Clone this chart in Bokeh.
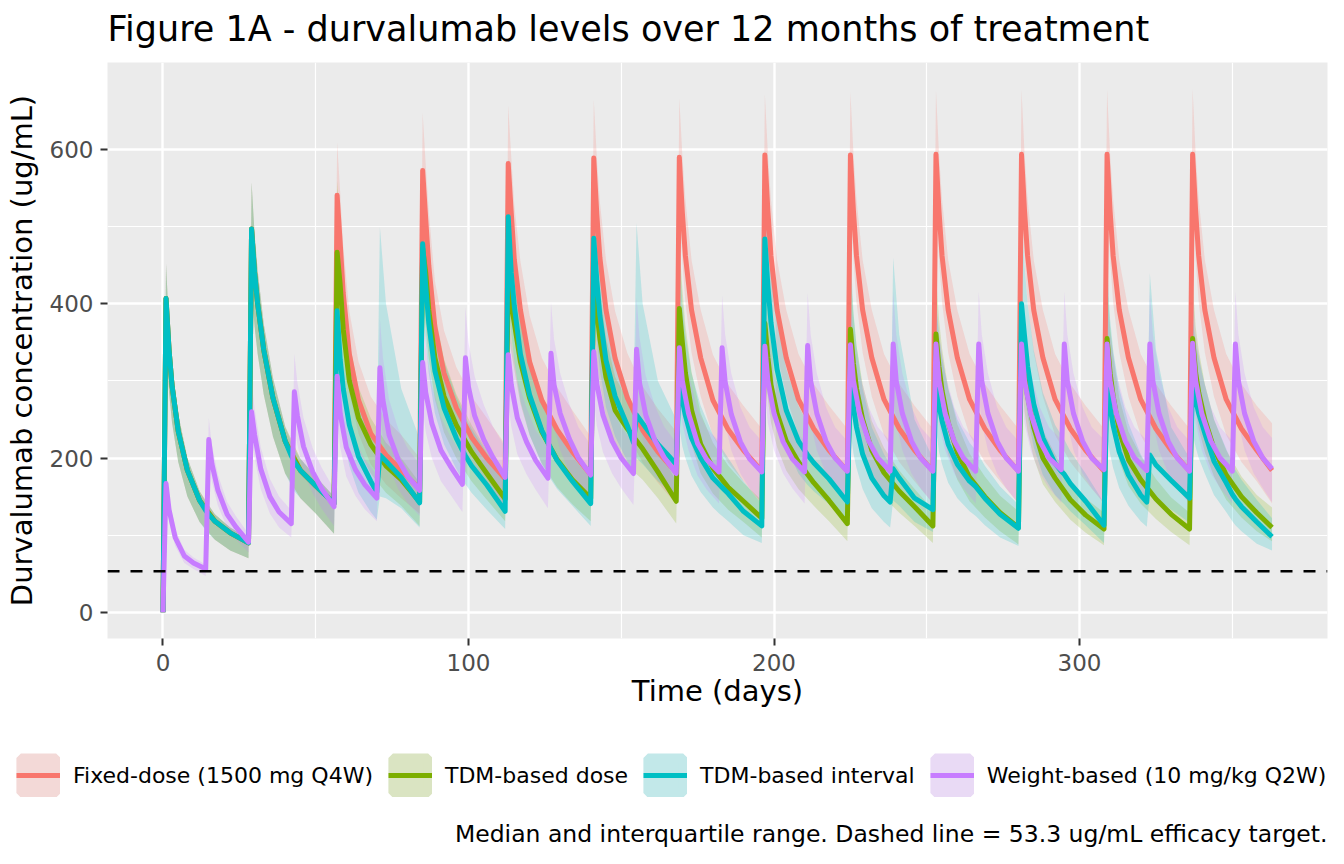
import numpy as np
from bokeh.plotting import figure
from bokeh.layouts import column
from bokeh.models import Range1d, FixedTicker, Span, Legend, LegendItem, Label, ColumnDataSource
from bokeh.embed import file_html
from bokeh.resources import INLINE

# ---------------- data ----------------
title_text = "Figure 1A - durvalumab levels over 12 months of treatment"
x_title = "Time (days)"
y_title = "Durvalumab concentration (ug/mL)"
caption_text = "Median and interquartile range. Dashed line = 53.3 ug/mL efficacy target."
series_labels = ["Fixed-dose (1500 mg Q4W)", "TDM-based dose", "TDM-based interval", "Weight-based (10 mg/kg Q2W)"]
series_colors = ["#F8766D", "#7CAE00", "#00BFC4", "#C77CFF"]
legend_key_fill = ["#F3D9D7", "#DAE4C2", "#C2E8E9", "#E9DAF5"]
efficacy_target = 53.3

x_ticks = [0, 100, 200, 300]
x_minor = [50, 150, 250, 350]
y_ticks = [0, 200, 400, 600]
y_minor = [100, 300, 500]

dose_days_q4w = [0, 28, 56, 84, 112, 140, 168, 196, 224, 252, 280, 308, 336]
dose_days_q2w = [0, 14, 28, 42, 56, 70, 84, 98, 112, 126, 140, 154, 168, 182, 196,
                 210, 224, 238, 252, 266, 280, 294, 308, 322, 336, 350]
end_day = 363
# sampling days after each dose (0 = pre-dose trough)
offsets_q4w = [0, 1, 2, 3, 5, 8, 12, 17, 22]
offsets_interval = [0, 1, 2, 3, 5, 8, 12, 14, 15, 17, 22]
offsets_q2w = [0, 1, 2, 4, 7, 10]

# Fixed-dose (1500 mg Q4W)
fixed_med = [
    [0, 407, 340, 293, 235, 184, 145, 118, 103],
    [90, 497, 440, 400, 340, 278, 222, 184, 164],
    [141, 541, 480, 414, 335, 275, 232, 204, 184],
    [160, 573, 510, 450, 370, 310, 265, 227, 200],
    [173, 582, 518, 457, 392, 325, 275, 237, 208],
    [178, 589, 516, 460, 392, 329, 278, 236, 208],
    [181, 590, 518, 462, 392, 330, 275, 237, 210],
    [183, 593, 520, 462, 392, 330, 276, 238, 210],
    [183, 593, 520, 462, 392, 330, 276, 238, 210],
    [183, 594, 520, 462, 392, 330, 276, 238, 210],
    [183, 594, 520, 462, 392, 330, 276, 238, 210],
    [183, 594, 520, 462, 392, 330, 276, 238, 210],
    [183, 594, 520, 462, 392, 330, 276, 238, 210],
]
fixed_med_end = 184
fixed_q75 = [
    [0, 452, 372, 320, 257, 200, 157, 127, 110],
    [96, 558, 490, 443, 374, 304, 241, 199, 176],
    [150, 610, 545, 475, 390, 325, 280, 250, 230],
    [200, 648, 580, 520, 430, 365, 318, 280, 252],
    [218, 658, 590, 528, 455, 385, 330, 292, 262],
    [228, 665, 590, 532, 457, 390, 336, 293, 264],
    [234, 667, 592, 535, 457, 392, 334, 295, 268],
    [238, 672, 594, 535, 457, 392, 335, 296, 268],
    [238, 675, 594, 535, 457, 392, 335, 296, 268],
    [238, 677, 594, 535, 457, 392, 335, 296, 268],
    [238, 678, 594, 535, 457, 392, 335, 296, 268],
    [238, 678, 594, 535, 457, 392, 335, 296, 268],
    [238, 679, 594, 535, 457, 392, 335, 296, 268],
]
fixed_q75_end = 245
fixed_q25 = [
    [0, 345, 285, 245, 195, 150, 117, 94, 80],
    [70, 420, 370, 335, 282, 228, 180, 148, 128],
    [102, 470, 415, 355, 285, 232, 192, 166, 148],
    [128, 505, 448, 392, 318, 263, 222, 188, 164],
    [136, 515, 456, 398, 338, 276, 230, 196, 170],
    [139, 522, 455, 400, 337, 279, 232, 194, 168],
    [140, 523, 456, 402, 337, 280, 229, 194, 170],
    [141, 526, 458, 402, 337, 280, 230, 195, 170],
    [141, 526, 458, 402, 337, 280, 230, 195, 170],
    [141, 526, 458, 402, 337, 280, 230, 195, 170],
    [141, 526, 458, 402, 337, 280, 230, 195, 170],
    [141, 526, 458, 402, 337, 280, 230, 195, 170],
    [141, 526, 458, 402, 337, 280, 230, 195, 170],
]
fixed_q25_end = 141

# TDM-based dose
dose_med = [
    [0, 407, 340, 293, 235, 184, 145, 118, 103],
    [90, 497, 440, 400, 340, 278, 222, 184, 164],
    [141, 467, 425, 367, 300, 252, 218, 190, 172],
    [143, 472, 440, 392, 330, 280, 243, 208, 180],
    [147, 430, 400, 375, 325, 278, 234, 198, 172],
    [148, 440, 390, 355, 305, 262, 238, 212, 182],
    [144, 394, 350, 310, 262, 218, 187, 162, 144],
    [122, 375, 330, 295, 258, 222, 195, 168, 145],
    [115, 367, 322, 290, 250, 210, 181, 157, 137],
    [112, 361, 318, 287, 246, 207, 175, 150, 129],
    [110, 357, 310, 280, 240, 200, 174, 146, 126],
    [108, 355, 310, 280, 235, 198, 172, 147, 127],
    [108, 355, 310, 285, 250, 212, 178, 150, 129],
]
dose_med_end = 110
dose_q75 = [
    [0, 452, 372, 320, 257, 200, 157, 127, 110],
    [96, 558, 490, 443, 374, 304, 241, 199, 176],
    [150, 560, 500, 430, 350, 292, 252, 220, 200],
    [168, 560, 520, 462, 388, 328, 283, 243, 210],
    [172, 520, 478, 440, 380, 325, 274, 232, 202],
    [173, 530, 462, 418, 356, 305, 276, 246, 212],
    [170, 480, 420, 372, 312, 258, 220, 190, 168],
    [145, 455, 395, 352, 305, 262, 229, 197, 170],
    [137, 445, 385, 346, 296, 248, 213, 184, 160],
    [133, 438, 380, 342, 291, 244, 206, 176, 151],
    [131, 433, 370, 334, 284, 236, 205, 171, 148],
    [129, 430, 370, 334, 278, 234, 203, 173, 149],
    [129, 430, 370, 340, 296, 250, 210, 176, 152],
]
dose_q75_end = 136
dose_q25 = [
    [0, 345, 285, 245, 195, 150, 117, 94, 80],
    [70, 420, 370, 335, 282, 228, 180, 148, 128],
    [102, 395, 360, 310, 252, 210, 180, 155, 138],
    [112, 400, 372, 330, 276, 233, 200, 170, 146],
    [118, 365, 338, 315, 270, 230, 193, 162, 140],
    [118, 370, 326, 296, 252, 216, 190, 172, 148],
    [115, 330, 292, 258, 218, 180, 154, 133, 117],
    [97, 315, 276, 246, 214, 184, 160, 138, 118],
    [92, 308, 270, 242, 208, 174, 149, 129, 112],
    [90, 303, 266, 240, 205, 172, 144, 123, 105],
    [88, 300, 260, 234, 200, 166, 143, 120, 103],
    [87, 298, 260, 234, 196, 164, 141, 121, 104],
    [87, 298, 260, 238, 208, 176, 146, 123, 105],
]
dose_q25_end = 92

# TDM-based interval
interval_med = [
    [0, 407, 340, 293, 235, 184, 145, 132, 127, 118, 103],
    [90, 497, 440, 400, 340, 278, 222, 203, 195, 184, 164],
    [141, 391, 328, 290, 243, 202, 170, 156, 204, 196, 175],
    [142, 478, 423, 375, 313, 265, 226, 210, 203, 190, 165],
    [131, 513, 440, 397, 335, 282, 236, 220, 212, 197, 170],
    [141, 485, 430, 385, 327, 280, 242, 220, 256, 245, 218],
    [192, 306, 275, 255, 226, 200, 174, 166, 162, 154, 131],
    [112, 484, 423, 376, 315, 262, 222, 210, 204, 194, 173],
    [143, 301, 265, 240, 205, 174, 151, 143, 186, 174, 148],
    [133, 306, 268, 248, 218, 192, 170, 163, 158, 148, 127],
    [109, 400, 358, 319, 270, 226, 193, 183, 179, 167, 144],
    [113, 297, 265, 242, 208, 178, 152, 143, 204, 191, 171],
    [148, 298, 275, 258, 232, 196, 168, 153, 147, 137, 117],
]
interval_med_end = 98
interval_q75 = [
    [0, 452, 372, 320, 257, 200, 157, 143, 138, 127, 110],
    [96, 558, 490, 443, 374, 304, 241, 220, 211, 199, 176],
    [150, 530, 440, 390, 330, 275, 232, 212, 500, 400, 290],
    [225, 560, 500, 450, 380, 325, 280, 262, 253, 238, 207],
    [172, 590, 515, 466, 395, 334, 282, 263, 254, 236, 204],
    [176, 580, 510, 458, 390, 335, 290, 265, 505, 400, 300],
    [250, 470, 400, 360, 310, 268, 230, 218, 212, 200, 170],
    [140, 580, 510, 452, 380, 316, 268, 253, 246, 234, 209],
    [180, 470, 390, 345, 290, 240, 205, 192, 460, 360, 250],
    [200, 400, 360, 330, 290, 250, 220, 210, 204, 190, 163],
    [140, 510, 450, 400, 340, 285, 243, 230, 224, 209, 180],
    [142, 450, 380, 340, 290, 245, 205, 192, 440, 340, 240],
    [200, 380, 350, 330, 295, 250, 212, 193, 185, 172, 146],
]
interval_q75_end = 122
interval_q25 = [
    [0, 345, 285, 245, 195, 150, 117, 106, 102, 94, 80],
    [70, 420, 370, 335, 282, 228, 180, 164, 157, 148, 128],
    [102, 300, 255, 228, 190, 155, 130, 120, 150, 148, 135],
    [110, 395, 350, 310, 258, 218, 186, 172, 166, 155, 133],
    [108, 420, 362, 326, 274, 230, 192, 179, 172, 160, 138],
    [112, 400, 352, 314, 266, 228, 196, 178, 200, 192, 170],
    [150, 240, 215, 200, 177, 156, 136, 128, 125, 118, 100],
    [90, 400, 348, 308, 258, 214, 180, 170, 165, 157, 140],
    [114, 235, 206, 187, 160, 135, 117, 110, 145, 138, 117],
    [104, 240, 208, 192, 168, 148, 131, 125, 121, 113, 97],
    [86, 320, 285, 254, 214, 178, 152, 144, 140, 131, 113],
    [90, 230, 205, 187, 161, 138, 118, 111, 155, 148, 133],
    [116, 232, 214, 200, 180, 152, 130, 118, 113, 105, 89],
]
interval_q25_end = 80

# Weight-based (10 mg/kg Q2W)
weight_med = [
    [0, 167, 133, 97, 73, 64],
    [56, 224, 193, 158, 127, 110],
    [91, 260, 230, 186, 150, 130],
    [115, 286, 255, 215, 182, 160],
    [137, 306, 258, 214, 185, 166],
    [148, 317, 275, 230, 198, 177],
    [158, 324, 285, 245, 210, 190],
    [166, 330, 292, 255, 224, 201],
    [175, 334, 295, 252, 221, 197],
    [174, 336, 295, 258, 225, 200],
    [178, 338, 296, 256, 222, 200],
    [180, 341, 297, 256, 223, 201],
    [180, 343, 300, 258, 219, 198],
    [182, 343, 299, 257, 221, 199],
    [182, 345, 300, 258, 221, 199],
    [182, 346, 300, 258, 222, 200],
    [183, 347, 300, 258, 222, 200],
    [183, 348, 300, 258, 222, 200],
    [183, 348, 300, 258, 222, 200],
    [183, 348, 300, 258, 222, 200],
    [183, 348, 300, 258, 222, 200],
    [185, 348, 300, 258, 222, 200],
    [185, 348, 300, 258, 222, 200],
    [184, 348, 300, 258, 222, 200],
    [183, 349, 300, 258, 222, 200],
    [183, 348, 300, 258, 222, 200],
]
weight_med_end = 186
weight_q75 = [
    [0, 185, 148, 108, 81, 71],
    [62, 252, 217, 178, 143, 124],
    [102, 300, 264, 214, 173, 150],
    [132, 335, 298, 252, 213, 187],
    [160, 365, 308, 256, 222, 199],
    [178, 380, 330, 276, 238, 213],
    [192, 390, 343, 295, 253, 229],
    [203, 396, 350, 306, 269, 241],
    [214, 400, 354, 302, 265, 236],
    [213, 402, 354, 310, 270, 240],
    [217, 405, 355, 307, 266, 240],
    [219, 408, 356, 307, 268, 241],
    [220, 410, 360, 310, 263, 238],
    [222, 411, 360, 310, 266, 240],
    [222, 413, 360, 310, 266, 240],
    [222, 414, 360, 310, 266, 240],
    [222, 415, 360, 310, 266, 240],
    [222, 416, 360, 310, 266, 240],
    [222, 416, 360, 310, 266, 240],
    [222, 416, 360, 310, 266, 240],
    [222, 416, 360, 310, 266, 240],
    [224, 416, 360, 310, 266, 240],
    [224, 416, 360, 310, 266, 240],
    [223, 416, 360, 310, 266, 240],
    [222, 417, 360, 310, 266, 240],
    [222, 416, 360, 310, 266, 240],
]
weight_q75_end = 226
weight_q25 = [
    [0, 150, 118, 86, 64, 56],
    [47, 200, 170, 138, 110, 94],
    [78, 228, 200, 160, 128, 110],
    [97, 245, 218, 182, 154, 134],
    [112, 255, 214, 176, 151, 134],
    [118, 262, 226, 188, 160, 142],
    [125, 266, 234, 200, 170, 153],
    [130, 270, 239, 208, 182, 162],
    [136, 273, 241, 205, 179, 159],
    [135, 275, 241, 210, 182, 161],
    [138, 277, 242, 208, 180, 161],
    [139, 279, 243, 208, 180, 162],
    [140, 281, 245, 210, 177, 159],
    [141, 283, 245, 210, 180, 161],
    [141, 283, 245, 210, 180, 161],
    [141, 283, 245, 210, 180, 161],
    [141, 283, 245, 210, 180, 161],
    [141, 283, 245, 210, 180, 161],
    [141, 283, 245, 210, 180, 161],
    [141, 283, 245, 210, 180, 161],
    [141, 283, 245, 210, 180, 161],
    [142, 283, 245, 210, 180, 161],
    [142, 283, 245, 210, 180, 161],
    [141, 283, 245, 210, 180, 161],
    [141, 284, 245, 210, 180, 161],
    [141, 283, 245, 210, 180, 161],
]
weight_q25_end = 143


def expand(doses, offsets, cycles, end_value):
    xs, ys = [], []
    for d, vals in zip(doses, cycles):
        for o, v in zip(offsets, vals):
            xs.append(d + o)
            ys.append(v)
    xs.append(end_day)
    ys.append(end_value)
    return xs, ys


def make_source(doses, offsets, med, med_end, q25, q25_end, q75, q75_end):
    x, m = expand(doses, offsets, med, med_end)
    _, lo = expand(doses, offsets, q25, q25_end)
    _, hi = expand(doses, offsets, q75, q75_end)
    return ColumnDataSource(dict(day=x, med=m, lo=lo, hi=hi))


sources = [
    make_source(dose_days_q4w, offsets_q4w, fixed_med, fixed_med_end, fixed_q25, fixed_q25_end, fixed_q75, fixed_q75_end),
    make_source(dose_days_q4w, offsets_q4w, dose_med, dose_med_end, dose_q25, dose_q25_end, dose_q75, dose_q75_end),
    make_source(dose_days_q4w, offsets_interval, interval_med, interval_med_end, interval_q25, interval_q25_end,
                interval_q75, interval_q75_end),
    make_source(dose_days_q2w, offsets_q2w, weight_med, weight_med_end, weight_q25, weight_q25_end, weight_q75, weight_q75_end),
]

FONT = "DejaVu Sans"
W = 1328

# ---------------- title strip ----------------
head = figure(width=W, height=62, output_backend="svg", toolbar_location=None,
              x_axis_location=None, y_axis_location=None,
              min_border_left=107, min_border_right=1, min_border_top=0, min_border_bottom=0)
head.grid.visible = False
head.outline_line_color = None
head.background_fill_color = "white"
head.border_fill_color = "white"
head.title.text = title_text
head.title.text_font = FONT
head.title.text_font_size = "35px"
head.title.text_font_style = "normal"
head.title.text_color = "black"
head.title.align = "left"
head.title.offset = 0
head.title.standoff = 12

# ---------------- main panel ----------------
p = figure(width=W, height=658, output_backend="svg", toolbar_location=None,
           x_range=Range1d(-18.15, 381.15), y_range=Range1d(-34, 713),
           min_border_left=107, min_border_right=1, min_border_top=0, min_border_bottom=82)
p.background_fill_color = "#EBEBEB"
p.border_fill_color = "white"
p.outline_line_color = None

p.xaxis.ticker = FixedTicker(ticks=x_ticks, minor_ticks=x_minor)
p.yaxis.ticker = FixedTicker(ticks=y_ticks, minor_ticks=y_minor)
for g in (p.xgrid, p.ygrid):
    g.grid_line_color = "white"
    g.grid_line_width = 2.4
    g.minor_grid_line_color = "white"
    g.minor_grid_line_width = 1.2

for ax in (p.xaxis, p.yaxis):
    ax.axis_line_color = None
    ax.major_tick_line_color = "#333333"
    ax.major_tick_line_width = 2
    ax.major_tick_out = 7
    ax.major_tick_in = 0
    ax.minor_tick_line_color = None
    ax.major_label_text_font = FONT
    ax.major_label_text_font_size = "23px"
    ax.major_label_text_color = "#4D4D4D"
    ax.axis_label_text_font = FONT
    ax.axis_label_text_font_size = "29px"
    ax.axis_label_text_font_style = "normal"
    ax.axis_label_text_color = "black"

p.xaxis.axis_label = x_title
p.yaxis.axis_label = y_title
p.xaxis.major_label_standoff = 8
p.xaxis.axis_label_standoff = 0
p.yaxis.major_label_standoff = 7
p.yaxis.axis_label_standoff = 8

for src, col in zip(sources, series_colors):
    p.varea(x="day", y1="lo", y2="hi", source=src, fill_color=col, fill_alpha=0.2)
for src, col in zip(sources, series_colors):
    p.line(x="day", y="med", source=src, line_color=col, line_width=5, line_join="round")

p.add_layout(Span(location=efficacy_target, dimension="width", line_color="black",
                  line_width=2.5, line_dash="12 11"))

# ---------------- legend + caption strip (frame = whole strip) ----------------
FOOT_H = 128
foot = figure(width=W, height=FOOT_H, output_backend="svg", toolbar_location=None,
              x_range=Range1d(0, W), y_range=Range1d(0, FOOT_H),
              x_axis_location=None, y_axis_location=None,
              min_border_left=0, min_border_right=0, min_border_top=0, min_border_bottom=0)
if "frame_align" in foot.properties():
    foot.frame_align = False
foot.grid.visible = False
foot.outline_line_color = None
foot.background_fill_color = "white"
foot.border_fill_color = "white"

items = []
for lab, col, kf in zip(series_labels, series_colors, legend_key_fill):
    kq = foot.quad(left=np.array([np.nan]), right=np.array([np.nan]), top=np.array([np.nan]),
                   bottom=np.array([np.nan]), fill_color=kf, line_color=kf, line_width=9)
    kl = foot.line(x=np.array([np.nan]), y=np.array([np.nan]), line_color=col, line_width=5)
    items.append(LegendItem(label=lab, renderers=[kq, kl]))
legend = Legend(items=items, orientation="horizontal", location=(16, 51),
                glyph_width=44, glyph_height=44, label_standoff=13, spacing=15,
                padding=0, margin=0, border_line_color=None, background_fill_alpha=0,
                label_text_font=FONT, label_text_font_size="22px", label_text_color="black")
foot.add_layout(legend, "center")

foot.add_layout(Label(x=W - 1, y=15, text=caption_text, text_align="right", text_baseline="middle",
                      text_font=FONT, text_font_size="23.5px", text_color="black"))

layout = column(head, p, foot, spacing=0)
open("out.html", "w").write(file_html(layout, INLINE))
